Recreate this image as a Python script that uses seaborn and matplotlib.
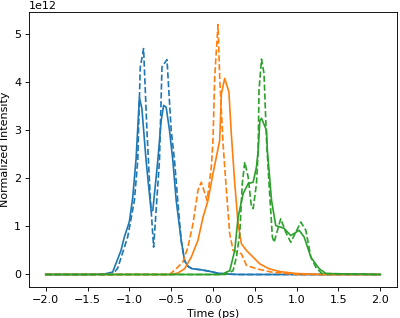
import matplotlib
matplotlib.use("Agg")
import matplotlib.pyplot as plt
import seaborn as sns
import numpy as np

# Blue pulse (solid = model A, dashed = model B)
blue_solid_x = [-2.0, -1.5, -1.3, -1.2, -1.1, -1.06, -1.0, -0.96, -0.92, -0.88, -0.85, -0.8, -0.74, -0.72,
                -0.66, -0.62, -0.59, -0.56, -0.52, -0.48, -0.44, -0.38, -0.34, -0.3, -0.25, -0.15, -0.05,
                0.05, 0.15, 0.3, 2.0]
blue_solid_y = [0, 0, 0.01, 0.05, 0.5, 0.78, 1.1, 1.6, 2.4, 3.68, 3.45, 2.37, 1.33, 1.33,
                2.37, 3.2, 3.52, 3.48, 3.0, 2.37, 1.54, 0.71, 0.29, 0.17, 0.12, 0.1, 0.07,
                0.03, 0.01, 0.0, 0]
blue_dash_x = [-2.0, -1.5, -1.2, -1.14, -1.02, -0.94, -0.9, -0.87, -0.83, -0.79, -0.75, -0.71, -0.64,
               -0.61, -0.55, -0.5, -0.46, -0.42, -0.38, -0.34, -0.3, -0.25, -0.15, -0.05, 0.05, 0.15,
               0.3, 2.0]
blue_dash_y = [0, 0, 0.0, 0.13, 0.78, 1.54, 2.37, 4.3, 4.7, 3.0, 1.6, 0.57, 2.37,
               4.32, 4.47, 3.0, 2.37, 1.5, 0.7, 0.29, 0.17, 0.12, 0.1, 0.07, 0.03, 0.01,
               0.0, 0]

# Orange pulse
orange_solid_x = [-2.0, -0.5, -0.42, -0.34, -0.26, -0.18, -0.12, -0.06, 0.0, 0.08, 0.1, 0.14, 0.19, 0.22,
                  0.26, 0.3, 0.34, 0.4, 0.44, 0.56, 0.67, 0.8, 1.0, 1.3, 2.0]
orange_solid_y = [0, 0, 0.03, 0.12, 0.36, 0.71, 1.19, 1.54, 2.1, 2.79, 3.76, 4.08, 3.8, 2.9,
                  1.9, 1.05, 0.64, 0.5, 0.43, 0.22, 0.12, 0.06, 0.02, 0.0, 0]
orange_dash_x = [-2.0, -0.52, -0.44, -0.36, -0.3, -0.24, -0.18, -0.14, -0.07, -0.02, 0.0, 0.02, 0.06,
                 0.08, 0.12, 0.16, 0.2, 0.24, 0.34, 0.4, 0.52, 0.7, 1.0, 2.0]
orange_dash_y = [0, 0, 0.12, 0.26, 0.57, 1.05, 1.75, 1.92, 1.54, 2.24, 2.79, 4.1, 5.2,
                 4.1, 2.73, 1.75, 0.85, 0.5, 0.43, 0.19, 0.12, 0.05, 0.0, 0]

# Green pulse
green_solid_x = [-2.0, 0.1, 0.2, 0.26, 0.3, 0.36, 0.42, 0.48, 0.52, 0.54, 0.56, 0.58, 0.64, 0.65, 0.7,
                 0.75, 0.85, 0.93, 1.03, 1.09, 1.17, 1.27, 1.35, 2.0]
green_solid_y = [0, 0, 0.08, 0.5, 1.19, 1.68, 1.89, 1.92, 2.24, 2.58, 3.2, 3.25, 3.0, 2.58, 1.54,
                 1.02, 0.96, 0.81, 0.92, 0.78, 0.36, 0.12, 0.02, 0]
green_dash_x = [-2.0, 0.15, 0.24, 0.28, 0.32, 0.35, 0.38, 0.42, 0.46, 0.48, 0.52, 0.54, 0.55, 0.58, 0.61,
                0.64, 0.67, 0.71, 0.73, 0.81, 0.87, 0.93, 1.05, 1.11, 1.17, 1.23, 1.3, 2.0]
green_dash_y = [0, 0, 0.08, 0.36, 0.85, 1.89, 2.34, 2.03, 1.4, 1.37, 1.89, 2.58, 3.83, 4.48, 4.18,
                2.79, 1.89, 0.78, 0.67, 1.16, 0.88, 0.67, 1.09, 0.92, 0.36, 0.15, 0.02, 0]

SCALE = 1e12

fig, ax = plt.subplots(figsize=(5.0, 3.975), dpi=80)

series = [
    (blue_solid_x, blue_solid_y, "#1f77b4", "-"),
    (blue_dash_x, blue_dash_y, "#1f77b4", "--"),
    (orange_solid_x, orange_solid_y, "#ff7f0e", "-"),
    (orange_dash_x, orange_dash_y, "#ff7f0e", "--"),
    (green_solid_x, green_solid_y, "#2ca02c", "-"),
    (green_dash_x, green_dash_y, "#2ca02c", "--"),
]
for xs, ys, c, ls in series:
    sns.lineplot(x=np.array(xs), y=np.array(ys) * SCALE, color=c, linestyle=ls,
                 linewidth=1.5, sort=False, estimator=None, ax=ax)

ax.set_xlim(-2.2, 2.2)
ax.set_ylim(-0.26e12, 5.46e12)
ax.set_xticks(np.arange(-2.0, 2.01, 0.5))
ax.set_yticks(np.arange(0, 6, 1) * SCALE)
ax.set_xlabel("Time (ps)")
ax.set_ylabel("Normalized Intensity")
fig.subplots_adjust(left=0.0725, right=0.9925, bottom=0.0975, top=0.962)
fig.savefig("out.png", dpi=80)
